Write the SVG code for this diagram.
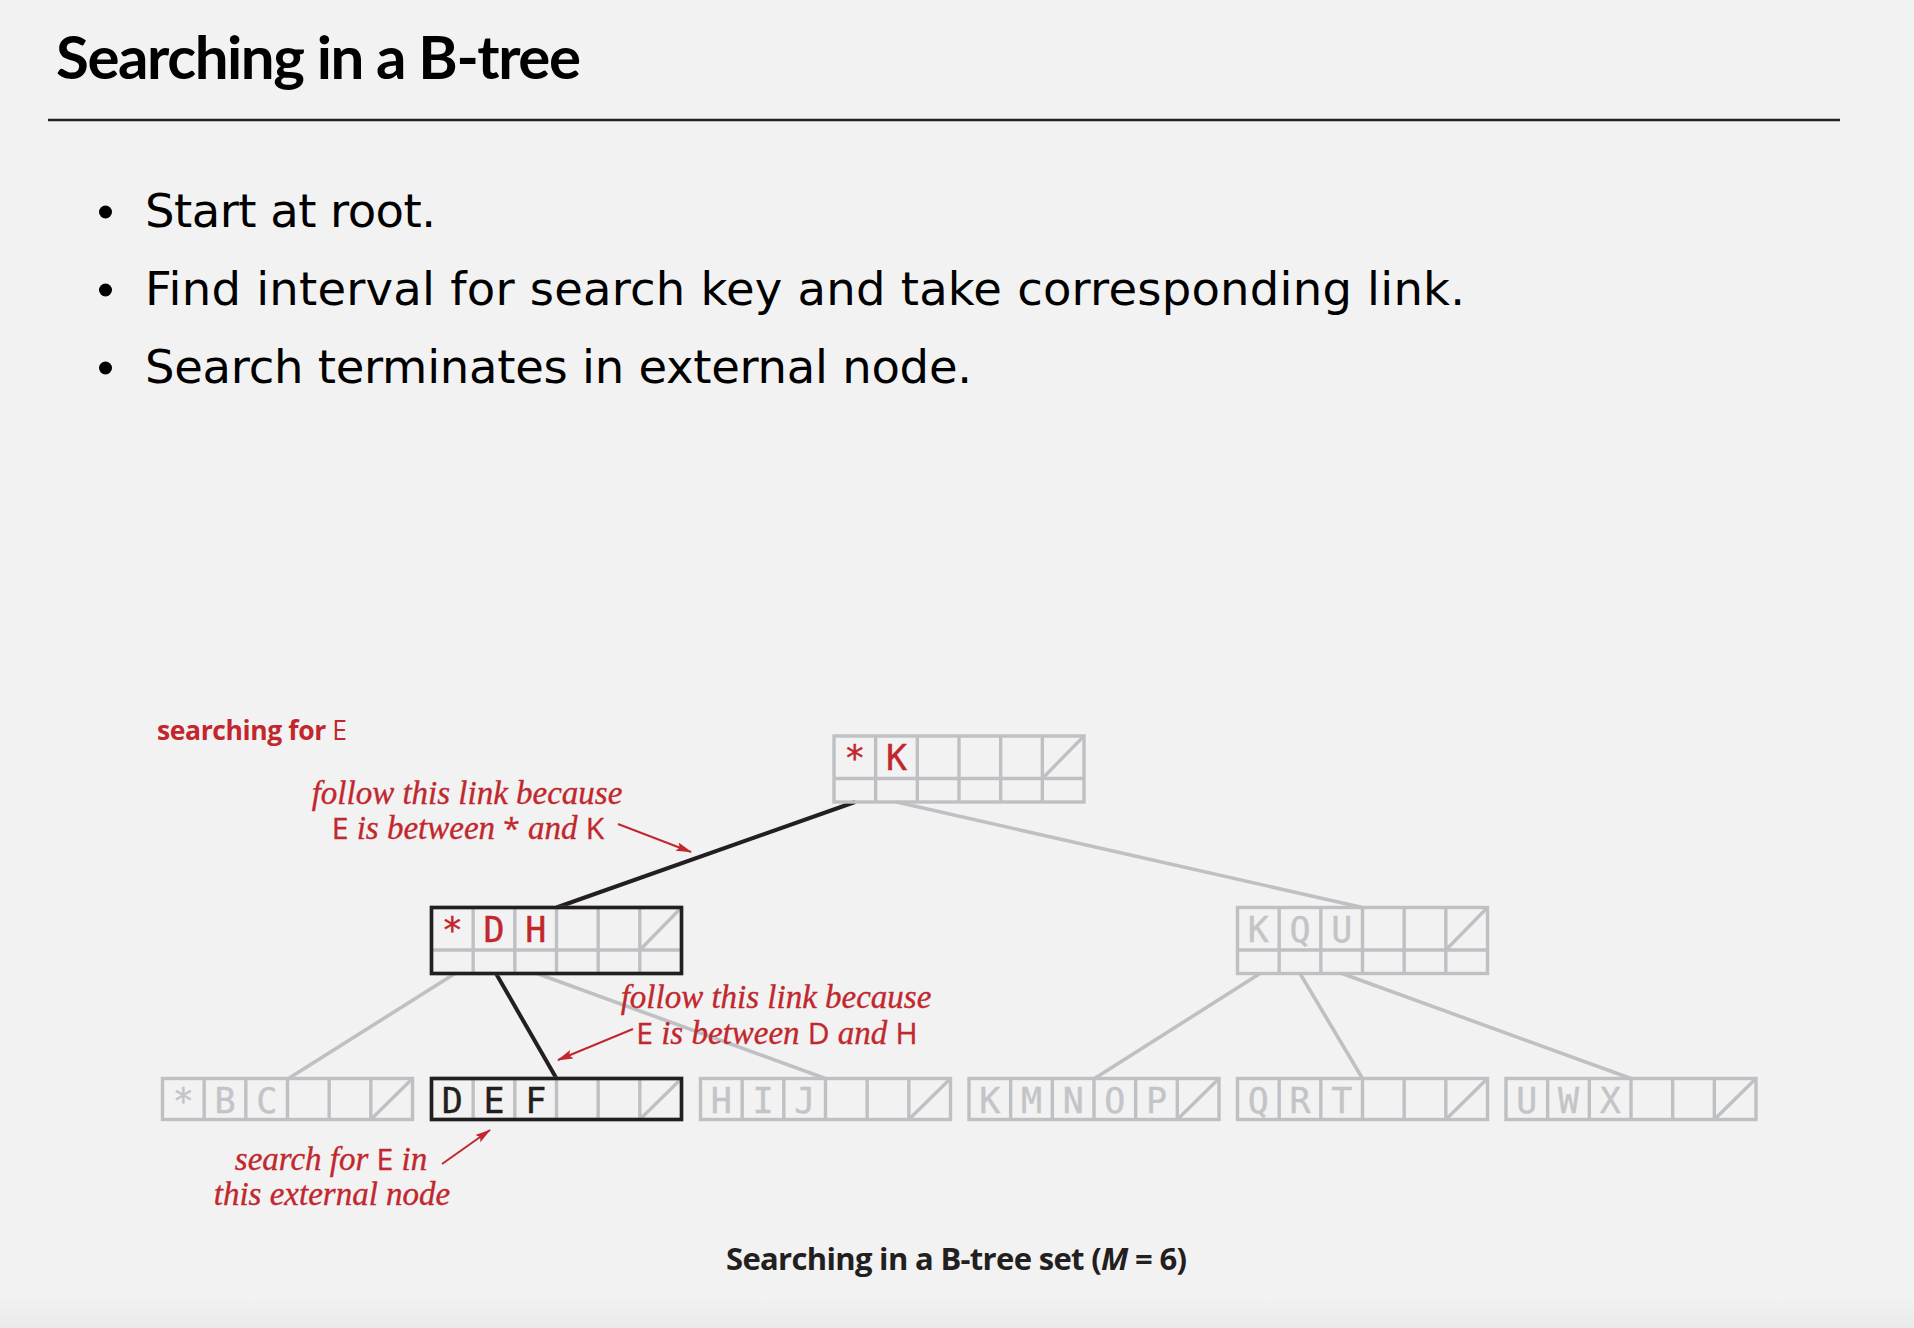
<svg xmlns="http://www.w3.org/2000/svg" xmlns:xlink="http://www.w3.org/1999/xlink" width="1914" height="1328" viewBox="0 0 1914 1328">
  <style>
    .title{font-family:Lato,"Open Sans",sans-serif;font-weight:bold;font-size:60px;fill:#000}
    .bullet{font-family:"DejaVu Sans",sans-serif;font-size:46.5px;fill:#000}
    .key{font-family:"DejaVu Sans Mono",monospace;font-size:35px;text-anchor:middle;stroke-width:0.4}
    .k-red{fill:#c1272d;stroke:#c1272d}
    .k-gray{fill:#c3c4c8;stroke:#c3c4c8}
    .k-black{fill:#231f20;stroke:#231f20}
    .grid{fill:none;stroke:#bfc0c4;stroke-width:3.4}
    .outline{fill:none;stroke:#231f20;stroke-width:3.6}
    .link{stroke:#bfc0c4;stroke-width:3.6;fill:none}
    .link.on{stroke:#231f20;stroke-width:4}
    .note{font-family:"Liberation Serif",serif;font-style:italic;font-size:33px;fill:#c1272d;stroke:#c1272d;stroke-width:0.35;text-anchor:middle}
    .sans{font-family:"Open Sans",sans-serif;font-style:normal;font-size:30px}
    .pointer{stroke:#c1272d;stroke-width:2;fill:none;marker-end:url(#head)}
    .caption{font-family:"Open Sans",sans-serif;font-weight:bold;font-size:31px;fill:#231f20}
  </style>
  <defs>
    <marker id="head" markerUnits="userSpaceOnUse" markerWidth="18" markerHeight="10" refX="15" refY="4.5" orient="auto">
      <path d="M0,0 L16,4.5 L0,9 L3,4.5 z" fill="#c1272d"/>
    </marker>
    <!-- internal node: 6 key cells over 6 link cells -->
    <g id="inode" class="grid">
      <rect x="0" y="0" width="250" height="66"/>
      <path d="M0,42.5H250 M41.67,0V66 M83.33,0V66 M125,0V66 M166.67,0V66 M208.33,0V66 M208.33,42.5L250,0"/>
    </g>
    <!-- external node: 6 key cells -->
    <g id="leaf" class="grid">
      <rect x="0" y="0" width="250" height="41"/>
      <path d="M41.67,0V41 M83.33,0V41 M125,0V41 M166.67,0V41 M208.33,0V41 M208.33,41L250,0"/>
    </g>
    <linearGradient id="foot" x1="0" y1="0" x2="0" y2="1">
      <stop offset="0" stop-color="#f2f2f2"/>
      <stop offset="1" stop-color="#eaeaea"/>
    </linearGradient>
  </defs>

  <rect width="1914" height="1328" fill="#f2f2f2"/>
  <rect y="1296" width="1914" height="32" fill="url(#foot)"/>

  <!-- heading -->
  <text class="title" x="56" y="79" textLength="525">Searching in a B-tree</text>
  <line x1="48" y1="120" x2="1840" y2="120" stroke="#222" stroke-width="2.5"/>

  <!-- bullet list -->
  <g id="bullets">
    <circle cx="105.5" cy="212" r="6.5" fill="#000"/>
    <text class="bullet" x="145" y="227" textLength="291">Start at root.</text>
    <circle cx="105.5" cy="290" r="6.5" fill="#000"/>
    <text class="bullet" x="145" y="305" textLength="1320">Find interval for search key and take corresponding link.</text>
    <circle cx="105.5" cy="368" r="6.5" fill="#000"/>
    <text class="bullet" x="145" y="383" textLength="827">Search terminates in external node.</text>
  </g>

  <!-- tree links -->
  <g id="links">
    <line class="link on" x1="855" y1="802" x2="556.5" y2="907.5"/>
    <line class="link" x1="896.5" y1="802" x2="1362.5" y2="907.5"/>
    <line class="link" x1="455" y1="973.5" x2="288.5" y2="1078.5"/>
    <line class="link on" x1="496" y1="973.5" x2="556.5" y2="1078.5"/>
    <line class="link" x1="537" y1="973.5" x2="825.5" y2="1078.5"/>
    <line class="link" x1="1260" y1="973.5" x2="1094.5" y2="1078.5"/>
    <line class="link" x1="1300" y1="973.5" x2="1362.5" y2="1078.5"/>
    <line class="link" x1="1342" y1="973.5" x2="1631" y2="1078.5"/>
  </g>

  <!-- nodes -->
  <g id="node-root">
    <use xlink:href="#inode" x="834" y="736"/>
    <text class="key k-red" x="854.8" y="770">*</text>
    <text class="key k-red" x="896.5" y="770">K</text>
  </g>
  <g id="node-DH">
    <use xlink:href="#inode" x="431.5" y="907.5"/>
    <rect class="outline" x="431.5" y="907.5" width="250" height="66"/>
    <text class="key k-red" x="452.3" y="941.5">*</text>
    <text class="key k-red" x="494" y="941.5">D</text>
    <text class="key k-red" x="535.7" y="941.5">H</text>
  </g>
  <g id="node-KQU">
    <use xlink:href="#inode" x="1237.5" y="907.5"/>
    <text class="key k-gray" x="1258.3" y="941.5">K</text>
    <text class="key k-gray" x="1300" y="941.5">Q</text>
    <text class="key k-gray" x="1341.7" y="941.5">U</text>
  </g>
  <g id="node-BC">
    <use xlink:href="#leaf" x="162.5" y="1078.5"/>
    <text class="key k-gray" x="183.3" y="1112.5">*</text>
    <text class="key k-gray" x="225" y="1112.5">B</text>
    <text class="key k-gray" x="266.7" y="1112.5">C</text>
  </g>
  <g id="node-DEF">
    <use xlink:href="#leaf" x="431.5" y="1078.5"/>
    <rect class="outline" x="431.5" y="1078.5" width="250" height="41"/>
    <text class="key k-black" x="452.3" y="1112.5">D</text>
    <text class="key k-black" x="494" y="1112.5">E</text>
    <text class="key k-black" x="535.7" y="1112.5">F</text>
  </g>
  <g id="node-HIJ">
    <use xlink:href="#leaf" x="700.5" y="1078.5"/>
    <text class="key k-gray" x="721.3" y="1112.5">H</text>
    <text class="key k-gray" x="763" y="1112.5">I</text>
    <text class="key k-gray" x="804.7" y="1112.5">J</text>
  </g>
  <g id="node-KMNOP">
    <use xlink:href="#leaf" x="969" y="1078.5"/>
    <text class="key k-gray" x="989.8" y="1112.5">K</text>
    <text class="key k-gray" x="1031.5" y="1112.5">M</text>
    <text class="key k-gray" x="1073.2" y="1112.5">N</text>
    <text class="key k-gray" x="1114.8" y="1112.5">O</text>
    <text class="key k-gray" x="1156.5" y="1112.5">P</text>
  </g>
  <g id="node-QRT">
    <use xlink:href="#leaf" x="1237.5" y="1078.5"/>
    <text class="key k-gray" x="1258.3" y="1112.5">Q</text>
    <text class="key k-gray" x="1300" y="1112.5">R</text>
    <text class="key k-gray" x="1341.7" y="1112.5">T</text>
  </g>
  <g id="node-UWX">
    <use xlink:href="#leaf" x="1506" y="1078.5"/>
    <text class="key k-gray" x="1526.8" y="1112.5">U</text>
    <text class="key k-gray" x="1568.5" y="1112.5">W</text>
    <text class="key k-gray" x="1610.2" y="1112.5">X</text>
  </g>

  <!-- annotations -->
  <g id="label-searching">
    <text x="157" y="740" font-family="Open Sans, sans-serif" font-weight="bold" font-size="26.5" fill="#c1272d" textLength="190">searching for <tspan font-weight="normal">E</tspan></text>
  </g>
  <g id="note-root">
    <text class="note" x="467" y="804">follow this link because</text>
    <text class="note" x="468" y="839"><tspan class="sans">E</tspan> is between <tspan class="sans">*</tspan> and <tspan class="sans">K</tspan></text>
    <line class="pointer" x1="618" y1="824" x2="691" y2="852"/>
  </g>
  <g id="note-internal">
    <text class="note" x="776" y="1008">follow this link because</text>
    <text class="note" x="777" y="1044"><tspan class="sans">E</tspan> is between <tspan class="sans">D</tspan> and <tspan class="sans">H</tspan></text>
    <line class="pointer" x1="633" y1="1029" x2="558" y2="1060"/>
  </g>
  <g id="note-external">
    <text class="note" x="331" y="1170">search for <tspan class="sans">E</tspan> in</text>
    <text class="note" x="332" y="1205">this external node</text>
    <line class="pointer" x1="442" y1="1164" x2="490" y2="1130"/>
  </g>

  <text class="caption" x="726" y="1270" textLength="461">Searching in a B-tree set (<tspan font-style="italic">M</tspan> = 6)</text>
</svg>
